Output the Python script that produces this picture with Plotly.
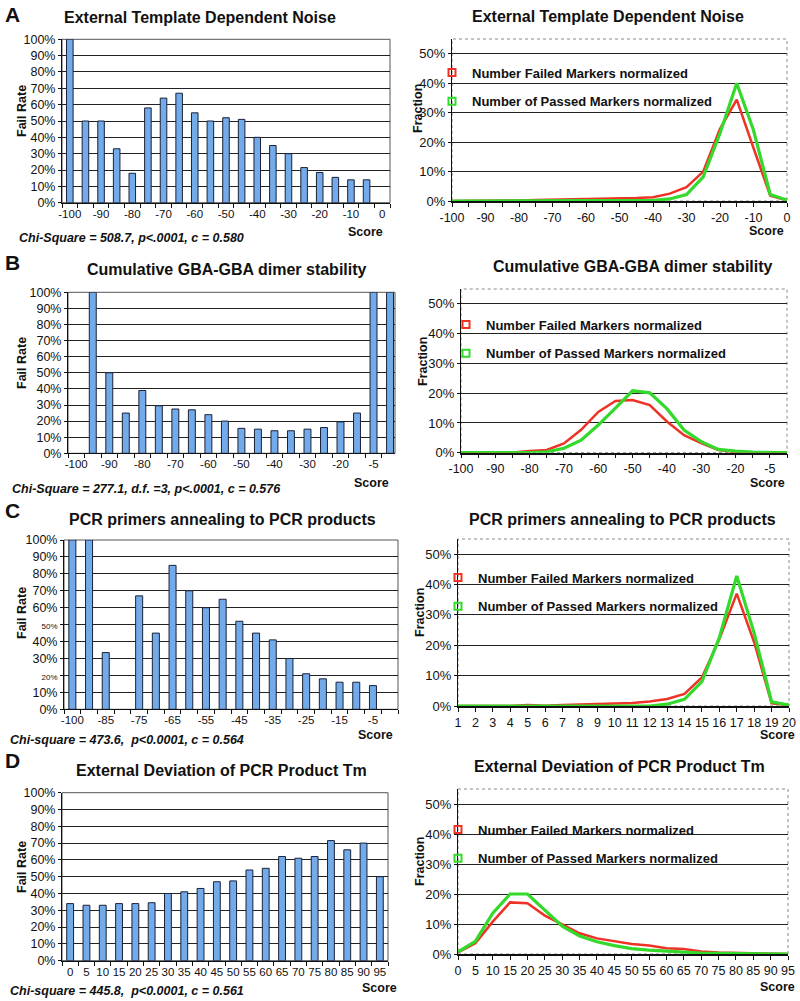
import plotly.graph_objects as go

W, H = 800, 1001
FONT = "Liberation Sans, Arial, Helvetica, sans-serif"
BAR_FILL = "#72aaea"
BAR_EDGE = "#1b2238"
RED = "#ee3226"
GREEN = "#33d92b"
GRID = "#222222"
INK = "#111111"

# ---------------- data ----------------
# Panel A
a_cats = ["-100", "-95", "-90", "-85", "-80", "-75", "-70", "-65", "-60", "-55", "-50",
          "-45", "-40", "-35", "-30", "-25", "-20", "-15", "-10", "-5", "0"]
a_labels = ["-100", "", "-90", "", "-80", "", "-70", "", "-60", "", "-50",
            "", "-40", "", "-30", "", "-20", "", "-10", "", "0"]
a_fail = [1.00, 0.50, 0.50, 0.33, 0.18, 0.58, 0.64, 0.67, 0.55, 0.50, 0.52,
          0.51, 0.40, 0.35, 0.30, 0.215, 0.185, 0.155, 0.14, 0.14, None]
a_failed_norm = [0, 0, 0, 0, 0.002, 0.003, 0.004, 0.006, 0.008, 0.009, 0.009,
                 0.010, 0.013, 0.025, 0.047, 0.100, 0.245, 0.344, 0.180, 0.018, 0.002]
a_passed_norm = [0, 0, 0, 0, 0, 0, 0, 0, 0, 0, 0,
                 0, 0.002, 0.007, 0.022, 0.082, 0.230, 0.400, 0.240, 0.022, 0.003]

# Panel B
b_cats = ["-100", "-95", "-90", "-85", "-80", "-75", "-70", "-65", "-60", "-55",
          "-50", "-45", "-40", "-35", "-30", "-25", "-20", "-15", "-5", "0"]
b_labels = ["-100", "", "-90", "", "-80", "", "-70", "", "-60", "",
            "-50", "", "-40", "", "-30", "", "-20", "", "-5", ""]
b_fail = [None, 1.00, 0.50, 0.25, 0.39, 0.295, 0.275, 0.27, 0.24, 0.20,
          0.155, 0.15, 0.14, 0.14, 0.15, 0.16, 0.195, 0.25, 1.00, 1.00]
b_failed_norm = [0, 0, 0, 0.001, 0.006, 0.009, 0.031, 0.077, 0.137, 0.174,
                 0.177, 0.160, 0.105, 0.059, 0.032, 0.009, 0.002, 0, 0, 0]
b_passed_norm = [0, 0, 0, 0, 0, 0.003, 0.015, 0.042, 0.093, 0.150,
                 0.208, 0.201, 0.148, 0.076, 0.037, 0.011, 0.005, 0.002, 0, 0]

# Panel C
c_left_cats = ["-100", "-90", "-85", "-80", "-75", "-70", "-65", "-60", "-55", "-50",
               "-45", "-40", "-35", "-30", "-25", "-20", "-15", "-10", "-5", "0"]
c_left_labels = ["-100", "", "-85", "", "-75", "", "-65", "", "-55", "",
                 "-45", "", "-35", "", "-25", "", "-15", "", "-5", ""]
c_fail = [1.00, 1.00, 0.335, None, 0.67, 0.45, 0.85, 0.70, 0.60, 0.65,
          0.52, 0.45, 0.41, 0.30, 0.21, 0.18, 0.16, 0.16, 0.14, None]
c_right_cats = ["1", "2", "3", "4", "5", "6", "7", "8", "9", "10",
                "11", "12", "13", "14", "15", "16", "17", "18", "19", "20"]
c_failed_norm = [0, 0, 0, 0, 0.003, 0.001, 0.003, 0.004, 0.005, 0.008,
                 0.010, 0.015, 0.023, 0.040, 0.094, 0.220, 0.370, 0.210, 0.009, 0.003]
c_passed_norm = [0, 0, 0, 0, 0, 0, 0, 0, 0, 0,
                 0, 0, 0.006, 0.022, 0.080, 0.225, 0.428, 0.240, 0.014, 0.003]

# Panel D
d_cats = ["0", "5", "10", "15", "20", "25", "30", "35", "40", "45",
          "50", "55", "60", "65", "70", "75", "80", "85", "90", "95"]
d_fail = [0.34, 0.33, 0.33, 0.34, 0.34, 0.345, 0.40, 0.41, 0.43, 0.47,
          0.475, 0.54, 0.55, 0.62, 0.61, 0.62, 0.715, 0.66, 0.70, 0.50]
d_failed_norm = [0.005, 0.036, 0.108, 0.172, 0.169, 0.128, 0.099, 0.069, 0.052, 0.043,
                 0.033, 0.028, 0.019, 0.017, 0.008, 0.005, 0.004, 0.003, 0.001, 0]
d_passed_norm = [0.007, 0.042, 0.136, 0.200, 0.200, 0.147, 0.093, 0.060, 0.041, 0.028,
                 0.018, 0.013, 0.009, 0.006, 0.003, 0.002, 0.001, 0, 0, 0]

# Tick labels
fail_ticks = [0, 0.1, 0.2, 0.3, 0.4, 0.5, 0.6, 0.7, 0.8, 0.9, 1.0]
fail_text = ["0%", "10%", "20%", "30%", "40%", "50%", "60%", "70%", "80%", "90%", "100%"]
fail_text_c = ["0%", "10%", '<span style="font-size:8px">20%</span>', "30%", "40%",
               '<span style="font-size:8px">50%</span>', "60%", "70%", "80%", "90%", "100%"]
frac_ticks = [0, 0.1, 0.2, 0.3, 0.4, 0.5]
frac_text = ["0%", "10%", "20%", "30%", "40%", "50%"]

titles = ["External Template Dependent Noise",
          "Cumulative GBA-GBA dimer stability",
          "PCR primers annealing to PCR products",
          "External Deviation of PCR Product Tm"]
letters = ["A", "B", "C", "D"]
stats = ["Chi-Square = 508.7, p<.0001, c = 0.580",
         "Chi-Square = 277.1, d.f. =3, p<.0001, c = 0.576",
         "Chi-square = 473.6,  p<0.0001, c = 0.564",
         "Chi-square = 445.8,  p<0.0001, c = 0.561"]
legend_names = ["Number Failed Markers normalized", "Number of Passed Markers normalized"]

# ---------------- layout geometry (pixels) ----------------
left_boxes = [((62, 390), (39.3, 202.7)), ((68, 395), (292.3, 453.3)),
              ((64, 398), (540, 709.3)), ((62, 388), (792.7, 960.7))]
right_boxes = [((452, 787), (39, 201)), ((461, 787), (289, 452.7)),
               ((458, 789), (539, 706)), ((458, 788), (789, 954))]
left_xranges = [[-0.5, 20.5], [-0.5, 19.3], [-0.5, 19.5], [-0.5, 19.5]]


def px(x):
    return x / W


def py(y):
    return 1 - y / H


def dom_x(a, b):
    return [a / W, b / W]


def dom_y(top, bottom):
    return [1 - bottom / H, 1 - top / H]


fig = go.Figure()
layout = dict(width=W, height=H, margin=dict(l=0, r=0, t=0, b=0, pad=0), autosize=False,
              paper_bgcolor="white", plot_bgcolor="white", showlegend=True,
              font=dict(family=FONT, color=INK))
shapes = []
annotations = []

left_sets = [(a_cats, a_labels, a_fail, fail_text),
             (b_cats, b_labels, b_fail, fail_text),
             (c_left_cats, c_left_labels, c_fail, fail_text_c),
             (d_cats, d_cats, d_fail, fail_text)]
right_sets = [(a_cats, a_labels, a_failed_norm, a_passed_norm),
              (b_cats, b_labels, b_failed_norm, b_passed_norm),
              (c_right_cats, c_right_cats, c_failed_norm, c_passed_norm),
              (d_cats, d_cats, d_failed_norm, d_passed_norm)]


def ax_names(n):
    s = "" if n == 1 else str(n)
    return "x" + s, "y" + s, "xaxis" + s, "yaxis" + s


# ----- left bar panels -----
for i, (cats, labels, vals, ytext) in enumerate(left_sets):
    n = i + 1
    xr, yr, xk, yk = ax_names(n)
    (x0, x1), (y0, y1) = left_boxes[i]
    fig.add_trace(go.Bar(x=cats, y=vals, xaxis=xr, yaxis=yr, width=0.42,
                         marker=dict(color=BAR_FILL, line=dict(color=BAR_EDGE, width=1)),
                         showlegend=False, hoverinfo="x+y"))
    layout[xk] = dict(domain=dom_x(x0, x1), anchor=yr, type="category", automargin=False,
                      categoryorder="array", categoryarray=cats, range=left_xranges[i],
                      tickmode="array", tickvals=cats, ticktext=labels,
                      ticks="outside", ticklen=4, tickcolor=INK, tickson="boundaries",
                      showline=True, linecolor=INK, linewidth=1, showgrid=False,
                      zeroline=False, tickangle=0,
                      tickfont=dict(family=FONT, size=11.5, color=INK))
    layout[yk] = dict(domain=dom_y(y0, y1), anchor=xr, range=[0, 1], automargin=False,
                      tickmode="array", tickvals=fail_ticks, ticktext=ytext,
                      ticks="outside", ticklen=3, tickcolor=INK,
                      showline=True, linecolor=INK, linewidth=1,
                      showgrid=True, gridcolor=GRID, gridwidth=1, zeroline=False,
                      tickfont=dict(family=FONT, size=12.5, color=INK))
    shapes.append(dict(type="rect", xref=xr + " domain", yref=yr + " domain",
                       x0=0, x1=1, y0=0, y1=1, line=dict(color="#555555", width=1),
                       layer="below"))

# ----- right line panels -----
legend_pos = [(432, 57.5), (446, 309.5), (438, 562.5), (438, 814.5)]
for i, (cats, labels, failed, passed) in enumerate(right_sets):
    n = i + 5
    xr, yr, xk, yk = ax_names(n)
    (x0, x1), (y0, y1) = right_boxes[i]
    lg = "legend" if i == 0 else "legend" + str(i + 1)
    fig.add_trace(go.Scatter(x=cats, y=failed, xaxis=xr, yaxis=yr, mode="lines",
                             line=dict(color=RED, width=2.5), showlegend=False,
                             name=legend_names[0]))
    fig.add_trace(go.Scatter(x=cats, y=passed, xaxis=xr, yaxis=yr, mode="lines",
                             line=dict(color=GREEN, width=3.2), showlegend=False,
                             name=legend_names[1]))
    # legend entries (square markers like the original)
    fig.add_trace(go.Scatter(x=[None], y=[None], xaxis=xr, yaxis=yr, mode="markers",
                             marker=dict(symbol="square-open", size=7, color=RED,
                                         line=dict(width=2, color=RED)),
                             name=legend_names[0], legend=lg, legendgroup=f"f{n}"))
    fig.add_trace(go.Scatter(x=[None], y=[None], xaxis=xr, yaxis=yr, mode="markers",
                             marker=dict(symbol="square-open", size=7, color=GREEN,
                                         line=dict(width=2, color=GREEN)),
                             name=legend_names[1], legend=lg, legendgroup=f"p{n}"))
    lx, ly = legend_pos[i]
    layout[lg] = dict(x=px(lx), y=py(ly), xanchor="left", yanchor="top",
                      bgcolor="rgba(0,0,0,0)", borderwidth=0, itemwidth=30,
                      tracegroupgap=9, traceorder="grouped",
                      font=dict(family=FONT, size=13, color=INK, weight="bold"))
    layout[xk] = dict(domain=dom_x(x0, x1), anchor=yr, type="category", automargin=False,
                      categoryorder="array", categoryarray=cats, range=[0, len(cats) - 1],
                      tickmode="array", tickvals=cats, ticktext=labels,
                      ticks="outside", ticklen=4, tickcolor=INK,
                      showline=True, linecolor=INK, linewidth=1.5, showgrid=False,
                      zeroline=False, tickangle=0,
                      tickfont=dict(family=FONT, size=12.5, color=INK))
    layout[yk] = dict(domain=dom_y(y0, y1), anchor=xr, range=[0, 0.55], automargin=False,
                      tickmode="array", tickvals=frac_ticks, ticktext=frac_text,
                      ticks="outside", ticklen=3, tickcolor=INK,
                      showline=True, linecolor=INK, linewidth=1,
                      showgrid=True, gridcolor=GRID, gridwidth=1, zeroline=False,
                      tickfont=dict(family=FONT, size=13, color=INK))
    shapes.append(dict(type="rect", xref=xr + " domain", yref=yr + " domain",
                       x0=0, x1=1, y0=0, y1=1,
                       line=dict(color="#8a8a8a", width=1, dash="dot"), layer="below"))


# ----- text annotations -----
def ann(text, x, y, size, xanchor="center", yanchor="middle", weight="bold",
        style="normal", angle=0):
    annotations.append(dict(text=text, x=px(x), y=py(y), xref="paper", yref="paper",
                            xanchor=xanchor, yanchor=yanchor, showarrow=False,
                            textangle=angle,
                            font=dict(family=FONT, size=size, color=INK,
                                      weight=weight, style=style)))


letter_y = [14.5, 262.5, 510.5, 760.5]
left_title_pos = [(200, 17.5), (227, 270), (222.5, 519), (221, 770)]
right_title_pos = [(607.5, 16), (633, 266.7), (622.5, 519), (619, 766.5)]
failrate_y = [111, 363, 613, 867]
fraction_pos = [(418, 109), (423, 362), (420, 613), (420, 862)]
score_left = [(365, 232), (371, 483), (375, 735), (379, 988)]
score_right = [(766, 231), (767, 483), (777, 735), (777, 987)]
stats_pos = [(17, 238), (10, 489), (8, 740), (8, 991)]

for i in range(4):
    ann(letters[i], 3, letter_y[i], 21, xanchor="left")
    ann(titles[i], *left_title_pos[i], 16)
    ann(titles[i], *right_title_pos[i], 16)
    ann("Fail Rate", 22, failrate_y[i], 12.5, angle=-90)
    ann("Fraction", *fraction_pos[i], 12.5, angle=-90)
    ann("Score", *score_left[i], 12.5)
    ann("Score", *score_right[i], 12.5)
    ann(stats[i], *stats_pos[i], 12.5, xanchor="left", style="italic")

layout["shapes"] = shapes
layout["annotations"] = annotations
fig.update_layout(**layout)
fig.write_html("out.html", config={"displayModeBar": False},
               post_script="document.body.style.margin='0';document.body.style.padding='0';")
